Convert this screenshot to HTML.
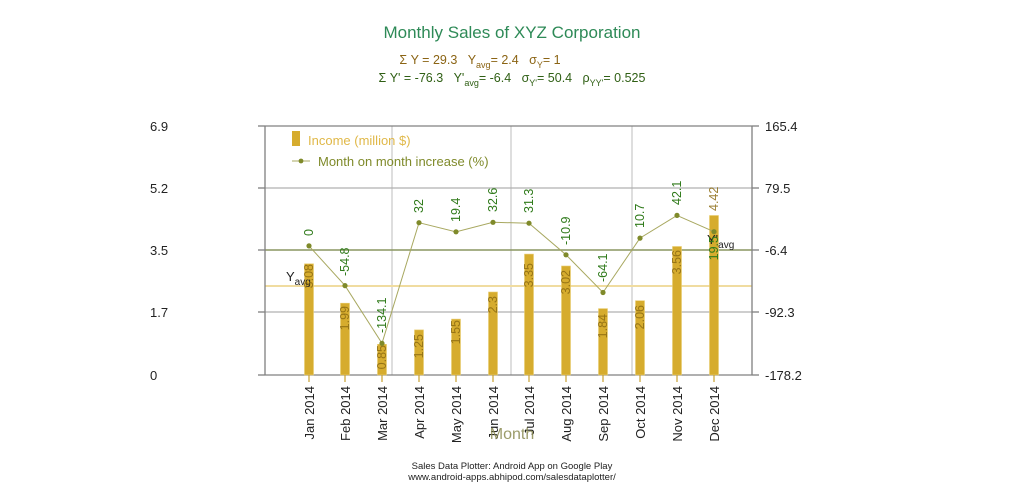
<!DOCTYPE html>
<html><head><meta charset="utf-8"><style>
html,body{margin:0;padding:0;background:#fff;}
svg{display:block;font-family:"Liberation Sans",sans-serif;}
</style></head><body>
<svg width="1024" height="500" viewBox="0 0 1024 500" xmlns="http://www.w3.org/2000/svg">
<text x="512" y="38" text-anchor="middle" font-size="17" fill="#2e8a57">Monthly Sales of XYZ Corporation</text>
<text x="480" y="64" text-anchor="middle" font-size="12.5" fill="#8b6414">Σ Y = 29.3 &#160;&#160;Y<tspan font-size="9" dy="4">avg</tspan><tspan dy="-4">= 2.4 &#160;&#160;σ</tspan><tspan font-size="9" dy="4">Y</tspan><tspan dy="-4">= 1</tspan></text>
<text x="512" y="82" text-anchor="middle" font-size="12.5" fill="#2f5f14">Σ Y' = -76.3 &#160;&#160;Y'<tspan font-size="9" dy="4">avg</tspan><tspan dy="-4">= -6.4 &#160;&#160;σ</tspan><tspan font-size="9" dy="4">Y'</tspan><tspan dy="-4">= 50.4 &#160;&#160;ρ</tspan><tspan font-size="9" dy="4">YY'</tspan><tspan dy="-4">= 0.525</tspan></text>

<!-- grid -->
<g stroke="#c8c8c8" stroke-width="1.2">
<line x1="392" y1="126" x2="392" y2="375"/><line x1="511" y1="126" x2="511" y2="375"/><line x1="632" y1="126" x2="632" y2="375"/>
</g>
<g stroke="#b0b0b0" stroke-width="1.2">
<line x1="265" y1="188" x2="752" y2="188"/><line x1="265" y1="312" x2="752" y2="312"/>
</g>
<line x1="265" y1="250" x2="752" y2="250" stroke="#8a9560" stroke-width="1.5"/>
<line x1="265" y1="286" x2="752" y2="286" stroke="#f0dca0" stroke-width="2"/>
<!-- frame -->
<g stroke="#808080" stroke-width="1.3" fill="none">
<line x1="265" y1="126" x2="752" y2="126"/><line x1="265" y1="375" x2="752" y2="375"/>
<line x1="265" y1="126" x2="265" y2="375"/><line x1="752" y1="126" x2="752" y2="375"/>
<line x1="258" y1="126" x2="265" y2="126"/><line x1="258" y1="188" x2="265" y2="188"/><line x1="258" y1="250" x2="265" y2="250"/><line x1="258" y1="312" x2="265" y2="312"/><line x1="258" y1="375" x2="265" y2="375"/>
<line x1="752" y1="126" x2="759" y2="126"/><line x1="752" y1="188" x2="759" y2="188"/><line x1="752" y1="250" x2="759" y2="250"/><line x1="752" y1="312" x2="759" y2="312"/><line x1="752" y1="375" x2="759" y2="375"/>
</g>
<g font-size="13" fill="#222">
<text x="150" y="131">6.9</text><text x="150" y="193">5.2</text><text x="150" y="255">3.5</text><text x="150" y="317">1.7</text><text x="150" y="380">0</text>
<text x="765" y="131">165.4</text><text x="765" y="193">79.5</text><text x="765" y="255">-6.4</text><text x="765" y="317">-92.3</text><text x="765" y="380">-178.2</text>
</g>

<!-- bars -->
<g fill="#d6ac2e" stroke="#e8cc70" stroke-width="0.6">
<rect x="304.5" y="263.8" width="9" height="111.2"/>
<rect x="340.5" y="303.2" width="9" height="71.8"/>
<rect x="377.5" y="344.3" width="9" height="30.7"/>
<rect x="414.5" y="329.9" width="9" height="45.1"/>
<rect x="451.5" y="319.1" width="9" height="55.9"/>
<rect x="488.5" y="292" width="9" height="83"/>
<rect x="524.5" y="254.1" width="9" height="120.9"/>
<rect x="561.5" y="266" width="9" height="109"/>
<rect x="598.5" y="308.6" width="9" height="66.4"/>
<rect x="635.5" y="300.7" width="9" height="74.3"/>
<rect x="672.5" y="246.5" width="9" height="128.5"/>
<rect x="709.5" y="215.5" width="9" height="159.5"/>
</g>
<g stroke="#c8a030" stroke-width="1.2">
<line x1="309" y1="375" x2="309" y2="382"/><line x1="345" y1="375" x2="345" y2="382"/><line x1="382" y1="375" x2="382" y2="382"/><line x1="419" y1="375" x2="419" y2="382"/><line x1="456" y1="375" x2="456" y2="382"/><line x1="493" y1="375" x2="493" y2="382"/><line x1="529" y1="375" x2="529" y2="382"/><line x1="566" y1="375" x2="566" y2="382"/><line x1="603" y1="375" x2="603" y2="382"/><line x1="640" y1="375" x2="640" y2="382"/><line x1="677" y1="375" x2="677" y2="382"/><line x1="714" y1="375" x2="714" y2="382"/>
</g>

<!-- avg labels -->
<text x="286" y="281" font-size="13" fill="#222">Y<tspan font-size="10" dy="4">avg</tspan></text>
<text x="707" y="244" font-size="13" fill="#222">Y'<tspan font-size="10" dy="4">avg</tspan></text>

<!-- bar value labels -->
<g font-size="12.5" fill="#8b6a10" fill-opacity="0.85" text-anchor="end">
<text transform="translate(313,264) rotate(-90)">3.08</text>
<text transform="translate(349,306) rotate(-90)">1.99</text>
<text transform="translate(386,345) rotate(-90)">0.85</text>
<text transform="translate(423,334) rotate(-90)">1.25</text>
<text transform="translate(460,320) rotate(-90)">1.55</text>
<text transform="translate(497,296) rotate(-90)">2.3</text>
<text transform="translate(533,263) rotate(-90)">3.35</text>
<text transform="translate(570,270) rotate(-90)">3.02</text>
<text transform="translate(607,314) rotate(-90)">1.84</text>
<text transform="translate(644,305) rotate(-90)">2.06</text>
<text transform="translate(681,250) rotate(-90)">3.56</text>
<text transform="translate(718,211) rotate(-90)" text-anchor="start">4.42</text>
</g>

<!-- line series -->
<polyline fill="none" stroke="#a8a860" stroke-width="1" points="309,245.9 345,285.6 382,343.3 419,222.7 456,231.8 493,222.3 529,223.2 566,254.8 603,292.5 640,238.1 677,215.4 714,231.7"/>
<g fill="#7f8a2a">
<circle cx="309" cy="245.9" r="2.6"/><circle cx="345" cy="285.6" r="2.6"/><circle cx="382" cy="343.3" r="2.6"/><circle cx="419" cy="222.7" r="2.6"/><circle cx="456" cy="231.8" r="2.6"/><circle cx="493" cy="222.3" r="2.6"/><circle cx="529" cy="223.2" r="2.6"/><circle cx="566" cy="254.8" r="2.6"/><circle cx="603" cy="292.5" r="2.6"/><circle cx="640" cy="238.1" r="2.6"/><circle cx="677" cy="215.4" r="2.6"/><circle cx="714" cy="231.7" r="2.6"/>
</g>
<g font-size="12.5" fill="#2f7a1a">
<text transform="translate(313,236) rotate(-90)">0</text>
<text transform="translate(349,276) rotate(-90)">-54.8</text>
<text transform="translate(386,333) rotate(-90)">-134.1</text>
<text transform="translate(423,213) rotate(-90)">32</text>
<text transform="translate(460,222) rotate(-90)">19.4</text>
<text transform="translate(497,212) rotate(-90)">32.6</text>
<text transform="translate(533,213) rotate(-90)">31.3</text>
<text transform="translate(570,245) rotate(-90)">-10.9</text>
<text transform="translate(607,282) rotate(-90)">-64.1</text>
<text transform="translate(644,228) rotate(-90)">10.7</text>
<text transform="translate(681,205) rotate(-90)">42.1</text>
<text transform="translate(718,236) rotate(-90)" text-anchor="end">19.5</text>
</g>

<!-- legend -->
<rect x="292" y="131" width="8" height="15" fill="#d6ac2e"/>
<text x="308" y="145" font-size="13" fill="#e0b848">Income (million $)</text>
<line x1="292" y1="161" x2="310" y2="161" stroke="#a8a860" stroke-width="1"/>
<circle cx="301" cy="161" r="2.4" fill="#7f8a2a"/>
<text x="318" y="166" font-size="13" fill="#7f8a2a">Month on month increase (%)</text>

<!-- x labels -->
<g font-size="13" fill="#222" text-anchor="end">
<text transform="translate(314,386) rotate(-90)">Jan 2014</text>
<text transform="translate(350,386) rotate(-90)">Feb 2014</text>
<text transform="translate(387,386) rotate(-90)">Mar 2014</text>
<text transform="translate(424,386) rotate(-90)">Apr 2014</text>
<text transform="translate(461,386) rotate(-90)">May 2014</text>
<text transform="translate(498,386) rotate(-90)">Jun 2014</text>
<text transform="translate(534,386) rotate(-90)">Jul 2014</text>
<text transform="translate(571,386) rotate(-90)">Aug 2014</text>
<text transform="translate(608,386) rotate(-90)">Sep 2014</text>
<text transform="translate(645,386) rotate(-90)">Oct 2014</text>
<text transform="translate(682,386) rotate(-90)">Nov 2014</text>
<text transform="translate(719,386) rotate(-90)">Dec 2014</text>
</g>
<text x="512" y="439" text-anchor="middle" font-size="16" fill="#8a8a50" fill-opacity="0.85">Month</text>
<text x="512" y="469" text-anchor="middle" font-size="9.5" fill="#222">Sales Data Plotter: Android App on Google Play</text>
<text x="512" y="480" text-anchor="middle" font-size="9.5" fill="#222">www.android-apps.abhipod.com/salesdataplotter/</text>
</svg>
</body></html>
